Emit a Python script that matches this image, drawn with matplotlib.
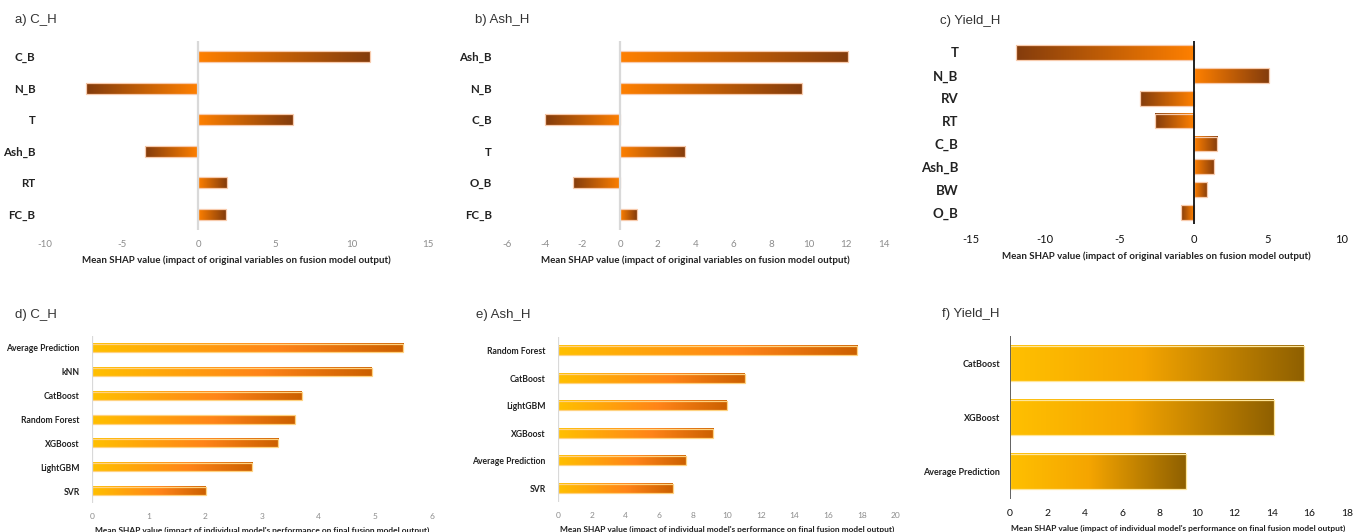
import numpy as np
import matplotlib
matplotlib.use("Agg")
import matplotlib.pyplot as plt
from matplotlib.colors import LinearSegmentedColormap

# SHAP importance of original variables (top row) and of base models (bottom row)
a_labels = ['C_B', 'N_B', 'T', 'Ash_B', 'RT', 'FC_B']
a_vals = [11.2, -7.3, 6.2, -3.45, 1.85, 1.8]

b_labels = ['Ash_B', 'N_B', 'C_B', 'T', 'O_B', 'FC_B']
b_vals = [12.1, 9.65, -4.0, 3.45, -2.5, 0.9]

c_labels = ['T', 'N_B', 'RV', 'RT', 'C_B', 'Ash_B', 'BW', 'O_B']
c_vals = [-12.0, 5.05, -3.6, -2.6, 1.55, 1.4, 0.9, -0.85]

d_labels = ['Average Prediction', 'kNN', 'CatBoost', 'Random Forest', 'XGBoost', 'LightGBM', 'SVR']
d_vals = [5.49, 4.94, 3.70, 3.58, 3.29, 2.83, 2.01]

e_labels = ['Random Forest', 'CatBoost', 'LightGBM', 'XGBoost', 'Average Prediction', 'SVR']
e_vals = [17.7, 11.05, 10.0, 9.2, 7.55, 6.8]

f_labels = ['CatBoost', 'XGBoost', 'Average Prediction']
f_vals = [15.7, 14.1, 9.4]

plt.rcParams['axes.unicode_minus'] = False

W, H = 1353, 532
fig = plt.figure(figsize=(W / 100, H / 100), dpi=100)
fig.patch.set_facecolor('white')

LBL = 'Lato'
TTL = 'Liberation Sans'

top_cmap = LinearSegmentedColormap.from_list('top', ['#FF8000', '#843C0C'])
mid_cmap = LinearSegmentedColormap.from_list(
    'mid', [(0, '#FFC000'), (0.6, '#FF8418'), (1, '#CC6000')])
yel_cmap = LinearSegmentedColormap.from_list(
    'yel', [(0, '#FFC000'), (0.45, '#F5A500'), (1, '#8F6000')])

grad = np.linspace(0, 1, 256).reshape(1, -1)


def px_axes(l, r, t, b):
    return fig.add_axes([l / W, 1 - b / H, (r - l) / W, (b - t) / H])


def panel(ax, labels, vals, xlim, xstep, cmap, height, edge, zero_col,
          ylab_size, xt_size, xt_col, xlabel, xl_size, title, tx, ty, ypad):
    n = len(labels)
    pos = np.arange(n)
    bars = ax.barh(pos, vals, height=height, color='none', edgecolor=edge,
                   linewidth=0.9, zorder=4)
    # fill each bar with a gradient running from zero out to its tip
    for p, v in zip(bars.patches, vals):
        bb = p.get_bbox()
        g = grad if v >= 0 else grad[:, ::-1]
        ax.imshow(g, cmap=cmap, aspect='auto', interpolation='bilinear',
                  extent=(min(bb.x0, bb.x1), max(bb.x0, bb.x1), bb.y0, bb.y1),
                  origin='lower', zorder=3)
    ax.axvline(0, color=zero_col, lw=1.3 if zero_col != '#D9D9D9' else 1.6, zorder=5)
    ax.set_xlim(*xlim)
    ax.set_ylim(n - 0.5, -0.5)
    ax.set_xticks(np.arange(xlim[0], xlim[1] + xstep / 2, xstep))
    ax.set_yticks(pos)
    ax.set_yticklabels(labels, fontfamily=LBL, fontweight='bold', fontsize=ylab_size,
                       color='#222222')
    for t in ax.get_xticklabels():
        t.set_fontfamily(LBL)
        t.set_fontsize(xt_size)
        t.set_color(xt_col)
    ax.tick_params(axis='both', length=0)
    ax.tick_params(axis='y', pad=ypad)
    ax.tick_params(axis='x', pad=7)
    for s in ax.spines.values():
        s.set_visible(False)
    ax.set_xlabel(xlabel, fontfamily=LBL, fontweight='bold', fontsize=xl_size,
                  color='#222222', labelpad=5)
    fig.text(tx / W, 1 - ty / H, title, fontfamily=TTL, fontsize=9.5,
             color='#333333', va='center', ha='left')


top_x = 'Mean SHAP value (impact of original variables on fusion model output)'
bot_x = "Mean SHAP value (impact of individual model's performance on final fusion model output)"
edge_top = '#F8CBAD'
edge_bot = '#FFD280'

ax = px_axes(45, 428, 41, 230)
panel(ax, a_labels, a_vals, (-10, 15), 5, top_cmap, 0.34, edge_top, '#D9D9D9',
      8.3, 7, '#8C8C8C', top_x, 7, 'a) C_H', 15, 20, 7)

ax = px_axes(507, 884, 41, 230)
panel(ax, b_labels, b_vals, (-6, 14), 2, top_cmap, 0.34, edge_top, '#D9D9D9',
      8.3, 7, '#8C8C8C', top_x, 7, 'b) Ash_H', 475, 20, 11)

ax = px_axes(971, 1342, 41, 224)
panel(ax, c_labels, c_vals, (-15, 10), 5, top_cmap, 0.65, edge_top, '#111111',
      9.5, 8, '#111111', top_x, 7, 'c) Yield_H', 940, 21, 9)

ax = px_axes(92, 432, 336, 503)
panel(ax, d_labels, d_vals, (0, 6), 1, mid_cmap, 0.34, edge_bot, '#D9D9D9',
      6.2, 6, '#8C8C8C', bot_x, 6, 'd) C_H', 15, 315, 9)

ax = px_axes(558, 896, 337, 502)
panel(ax, e_labels, e_vals, (0, 20), 2, mid_cmap, 0.34, edge_bot, '#D9D9D9',
      6.2, 6, '#8C8C8C', bot_x, 6, 'e) Ash_H', 476, 315, 9)

ax = px_axes(1010, 1347, 336, 499)
panel(ax, f_labels, f_vals, (0, 18), 2, yel_cmap, 0.65, '#FFE699', '#555555',
      6.5, 7.5, '#111111', bot_x, 6, 'f) Yield_H', 942, 314, 7)

fig.savefig('out.png', dpi=100)
